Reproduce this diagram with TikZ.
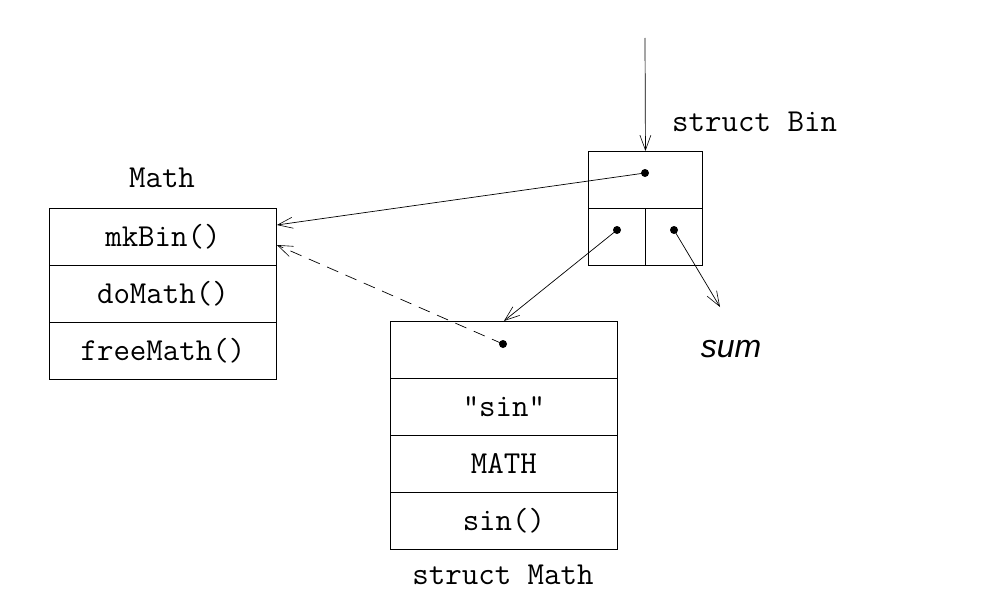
\documentclass[tikz,border=0pt]{standalone}
\usepackage{fontspec}
\setsansfont{Liberation Sans}
\usetikzlibrary{arrows.meta}
\begin{document}
\begin{tikzpicture}[x=1pt,y=-1pt,
  cell/.style={draw, line width=0.9pt, minimum width=227pt, minimum height=57pt, inner sep=0pt, font=\fontsize{32}{32}\ttfamily, anchor=north west},
  bincell/.style={draw, line width=0.9pt, inner sep=0pt, anchor=north west},
  lbl/.style={font=\fontsize{32}{32}\ttfamily, inner sep=0pt},
  dot/.style={circle, fill, inner sep=0pt, minimum size=8pt},
  ptr/.style={line width=0.7pt, -{Straight Barb[length=15pt,width=11pt,line width=0.6pt]}}]
\useasboundingbox (0,0) rectangle (982,610);
% Math box
\node[cell] (mk) at (49,208) {mkBin()};
\node[cell] (do) at (49,265) {doMath()};
\node[cell] (fr) at (49,322) {freeMath()};
\node[lbl] (mathlbl) at (162,178) {Math};
% struct Bin
\node[bincell, minimum width=114pt, minimum height=57pt] (bt) at (588,151) {};
\node[bincell, minimum width=57pt, minimum height=57pt] (bl) at (588,208) {};
\node[bincell, minimum width=57pt, minimum height=57pt] (br) at (645,208) {};
\node[lbl, anchor=west] (binlbl) at (672,122) {struct Bin};
\node[dot] (d1) at (645,173) {};
\node[dot] (d2) at (617,230) {};
\node[dot] (d3) at (674,230) {};
\coordinate (top) at (645,38);
% struct Math
\node[cell] (m1) at (390,321) {};
\node[cell] (m2) at (390,378) {"sin"};
\node[cell] (m3) at (390,435) {MATH};
\node[cell] (m4) at (390,492) {sin()};
\node[lbl] (smlbl) at (503,575) {struct Math};
\node[dot] (d4) at (503,344) {};
\node[font=\fontsize{32}{32}\sffamily\itshape, inner sep=0pt] (sum) at (731,349) {sum};
\coordinate (sumend) at (720,307);
% connectors
\draw[ptr] (top) -- (bt.north);
\draw[ptr] (d1.center) -- (mk.east |- 0,225);
\draw[ptr, dash pattern=on 12pt off 8pt] (d4.center) -- (mk.east |- 0,245);
\draw[ptr] (d2.center) -- (m1.north);
\draw[ptr] (d3.center) -- (sumend);
\end{tikzpicture}
\end{document}
